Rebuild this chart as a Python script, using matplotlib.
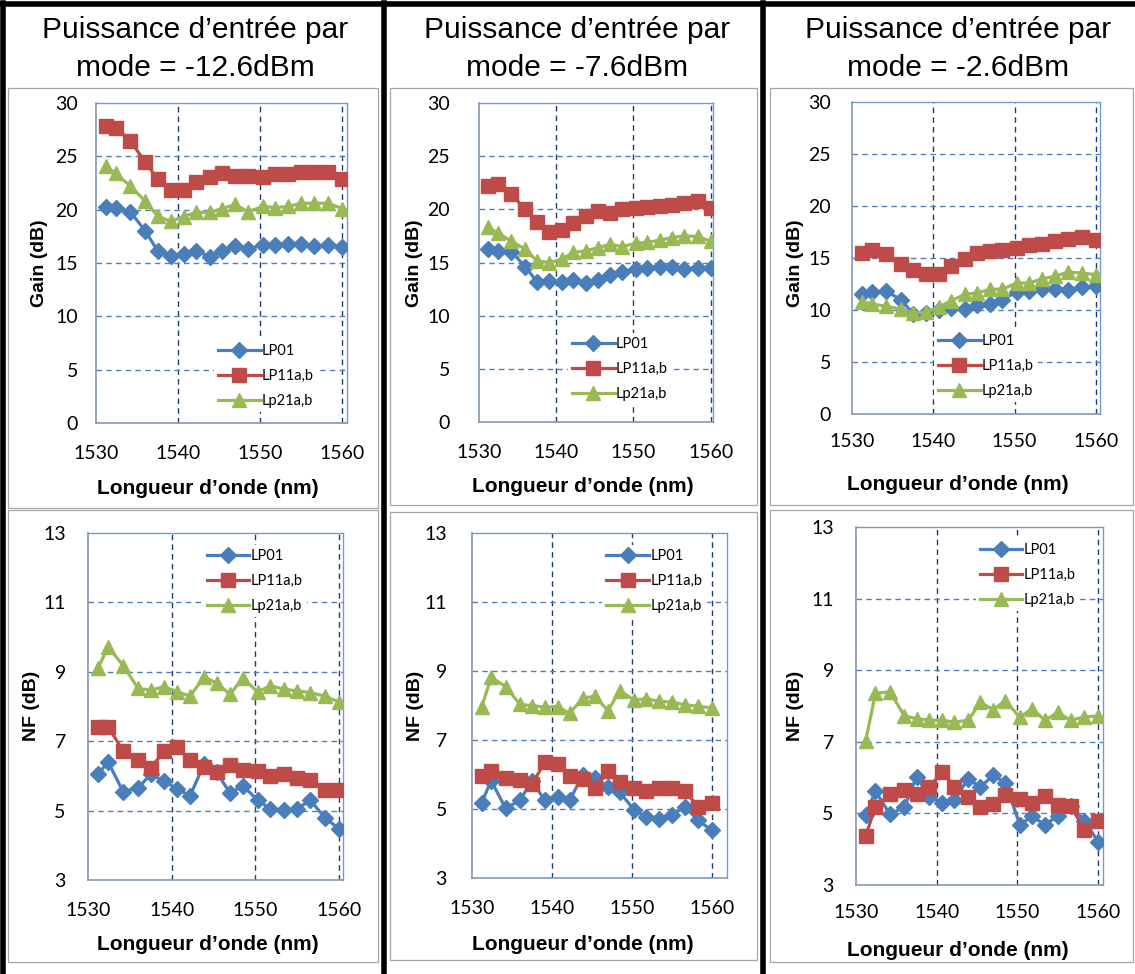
import matplotlib.pyplot as plt
from matplotlib.lines import Line2D
from matplotlib.patches import Rectangle

# wavelengths (nm) shared by every curve
wavelength = [1531.2, 1532.4, 1534.2, 1536.0, 1537.5, 1539.1, 1540.7, 1542.2, 1543.9, 1545.4,
              1547.0, 1548.5, 1550.3, 1551.8, 1553.4, 1555.0, 1556.6, 1558.3, 1560.0]

mode_names = ['LP01', 'LP11a,b', 'Lp21a,b']
input_powers = ['-12.6dBm', '-7.6dBm', '-2.6dBm']

# gain (dB)
gain_lp01_m12 = [20.25, 20.15, 19.8, 18.0, 16.15, 15.7, 15.85, 16.1, 15.6, 16.1, 16.6, 16.3, 16.7, 16.7, 16.8, 16.8, 16.55, 16.7, 16.5]
gain_lp11_m12 = [27.85, 27.7, 26.45, 24.45, 22.9, 21.8, 21.8, 22.6, 23.1, 23.4, 23.2, 23.2, 23.1, 23.3, 23.3, 23.5, 23.5, 23.5, 22.9]
gain_lp21_m12 = [24.1, 23.4, 22.2, 20.8, 19.4, 18.9, 19.35, 19.75, 19.75, 20.1, 20.5, 19.8, 20.3, 20.2, 20.3, 20.6, 20.6, 20.6, 20.1]

gain_lp01_m7 = [16.3, 16.1, 16.0, 14.6, 13.2, 13.25, 13.2, 13.4, 13.1, 13.4, 13.8, 14.1, 14.4, 14.5, 14.6, 14.6, 14.4, 14.5, 14.45]
gain_lp11_m7 = [22.2, 22.35, 21.4, 20.0, 18.8, 17.9, 18.1, 18.75, 19.4, 19.85, 19.7, 20.0, 20.15, 20.25, 20.3, 20.45, 20.6, 20.75, 20.1]
gain_lp21_m7 = [18.3, 17.8, 17.0, 16.25, 15.15, 15.0, 15.3, 15.95, 16.1, 16.4, 16.7, 16.5, 16.8, 16.9, 17.1, 17.35, 17.5, 17.45, 17.0]

gain_lp01_m2 = [11.5, 11.75, 11.8, 11.0, 9.65, 9.75, 10.0, 10.2, 10.05, 10.5, 10.6, 11.0, 11.75, 11.85, 12.0, 12.05, 11.95, 12.2, 12.3]
gain_lp11_m2 = [15.45, 15.8, 15.35, 14.4, 13.8, 13.45, 13.5, 14.2, 14.9, 15.45, 15.65, 15.75, 16.0, 16.25, 16.35, 16.6, 16.85, 17.0, 16.7]
gain_lp21_m2 = [10.8, 10.6, 10.35, 10.1, 9.7, 9.8, 10.3, 10.9, 11.5, 11.65, 12.0, 12.0, 12.6, 12.6, 13.0, 13.25, 13.65, 13.55, 13.4]

# noise figure (dB)
nf_lp01_m12 = [6.05, 6.4, 5.55, 5.65, 6.05, 5.85, 5.62, 5.42, 6.35, 6.1, 5.5, 5.72, 5.3, 5.05, 5.02, 5.05, 5.3, 4.8, 4.48]
nf_lp11_m12 = [7.4, 7.42, 6.72, 6.45, 6.22, 6.72, 6.82, 6.45, 6.25, 6.1, 6.3, 6.17, 6.13, 6.0, 6.05, 5.95, 5.87, 5.6, 5.6]
nf_lp21_m12 = [9.1, 9.72, 9.18, 8.52, 8.47, 8.57, 8.42, 8.3, 8.85, 8.67, 8.35, 8.82, 8.42, 8.6, 8.5, 8.45, 8.4, 8.3, 8.13]

nf_lp01_m7 = [5.18, 5.82, 5.02, 5.25, 5.82, 5.25, 5.35, 5.25, 6.0, 5.9, 5.65, 5.48, 4.97, 4.77, 4.72, 4.82, 5.07, 4.67, 4.38]
nf_lp11_m7 = [5.95, 6.1, 5.9, 5.85, 5.72, 6.35, 6.3, 5.97, 5.88, 5.6, 6.1, 5.77, 5.6, 5.52, 5.6, 5.6, 5.52, 5.07, 5.17]
nf_lp21_m7 = [7.95, 8.82, 8.55, 8.03, 8.0, 7.95, 7.97, 7.77, 8.22, 8.27, 7.85, 8.43, 8.15, 8.2, 8.12, 8.1, 8.02, 7.98, 7.93]

nf_lp01_m2 = [4.95, 5.62, 4.98, 5.18, 6.03, 5.45, 5.3, 5.37, 5.97, 5.73, 6.07, 5.85, 4.68, 4.92, 4.68, 4.93, 5.22, 4.8, 4.21]
nf_lp11_m2 = [4.38, 5.17, 5.54, 5.66, 5.54, 5.75, 6.15, 5.75, 5.45, 5.17, 5.26, 5.52, 5.4, 5.29, 5.5, 5.23, 5.2, 4.55, 4.8]
nf_lp21_m2 = [7.02, 8.35, 8.4, 7.72, 7.65, 7.6, 7.6, 7.55, 7.6, 8.1, 7.9, 8.15, 7.68, 7.93, 7.6, 7.82, 7.6, 7.7, 7.72]

gain_sets = [(gain_lp01_m12, gain_lp11_m12, gain_lp21_m12),
             (gain_lp01_m7, gain_lp11_m7, gain_lp21_m7),
             (gain_lp01_m2, gain_lp11_m2, gain_lp21_m2)]
nf_sets = [(nf_lp01_m12, nf_lp11_m12, nf_lp21_m12),
           (nf_lp01_m7, nf_lp11_m7, nf_lp21_m7),
           (nf_lp01_m2, nf_lp11_m2, nf_lp21_m2)]

W, H = 1135, 974
colors = ['#4A7EBB', '#BE4B48', '#98B954']
markers = [('D', 8), ('s', 10), ('^', 10)]
tick_font = 'Lato'
label_font = 'Liberation Sans'

fig = plt.figure(figsize=(W / 100, H / 100), dpi=100)
fig.patch.set_facecolor('white')


def fx(x):
    return x / W


def fy(y):
    return 1 - y / H


def px_axes(x0, y0, x1, y1):
    return fig.add_axes([fx(x0), fy(y1), (x1 - x0) / W, (y1 - y0) / H])


def style_axes(ax, xmax, ylim, yticks, ypad, xpad, leg_anchor):
    ax.set_xlim(1530, xmax)
    ax.set_ylim(*ylim)
    ax.set_xticks([1530, 1540, 1550, 1560])
    ax.set_yticks(yticks)
    for v in [1540, 1550, 1560]:
        ax.axvline(v, color='#1F3A6E', lw=1.0, ls=(0, (4, 3)), zorder=1)
    for v in yticks[1:-1]:
        ax.axhline(v, color='#4F7FC0', lw=1.0, ls=(0, (4, 3)), zorder=1)
    for s in ['top', 'right']:
        ax.spines[s].set_color('#6E9AD6')
        ax.spines[s].set_linewidth(1.0)
    for s in ['left', 'bottom']:
        ax.spines[s].set_color('#8497B0')
        ax.spines[s].set_linewidth(1.2)
    ax.tick_params(length=0)
    ax.tick_params(axis='y', pad=ypad, labelsize=14)
    ax.tick_params(axis='x', pad=xpad, labelsize=14)
    for lab in ax.get_xticklabels() + ax.get_yticklabels():
        lab.set_fontfamily(tick_font)
    leg = ax.legend(loc='center left', bbox_to_anchor=leg_anchor, frameon=True,
                    facecolor='white', edgecolor='none', framealpha=1,
                    borderpad=0.3, borderaxespad=0, handlelength=2.9,
                    handletextpad=0.1, labelspacing=0.75,
                    prop={'family': tick_font, 'size': 10.5})
    leg.set_zorder(5)


# chart area boxes and the heavy frame separating the three power levels
boxes = [(8, 88, 378, 508), (8, 510, 378, 962),
         (390, 88, 757, 505), (390, 512, 757, 960),
         (770, 88, 1133, 505), (770, 510, 1133, 962)]
for x0, y0, x1, y1 in boxes:
    fig.add_artist(Rectangle((fx(x0), fy(y1)), (x1 - x0) / W, (y1 - y0) / H,
                             transform=fig.transFigure, fill=False,
                             edgecolor='#A6A6A6', lw=0.9))
fig.add_artist(Line2D([0, 1], [fy(4), fy(4)], color='black', lw=4))
for xv in [3, 384, 763]:
    fig.add_artist(Line2D([fx(xv), fx(xv)], [0, fy(3)], color='black', lw=4))

# titles
for cx, pw in zip([195, 577, 958], input_powers):
    fig.text(fx(cx), fy(30), 'Puissance d’entrée par', ha='center', va='center',
             fontsize=21.5, family=label_font)
    fig.text(fx(cx), fy(68), 'mode = ' + pw, ha='center', va='center',
             fontsize=21.5, family=label_font)

# gain row: (x0, y0, x1, y1, xmax, ypad, xpad, legend anchor)
gain_layout = [(96, 103, 347, 423, 1560.6, 13, 16, (0.47, 0.147)),
               (479, 103, 713, 422, 1560.3, 21, 16, (0.38, 0.166)),
               (852, 102, 1100, 414, 1560.5, 15, 14, (0.33, 0.154))]
nf_layout = [(88, 533, 343, 880, 1560.5, 16, 16, (0.45, 0.862)),
             (472, 533, 727, 878, 1561.9, 18, 16, (0.51, 0.861)),
             (856, 527, 1103, 885, 1560.6, 16, 14, (0.485, 0.866))]

gain_labels_x = [40, 414, 796]
nf_labels_x = [32, 415, 795]
xlabel_pos = [(208, 488, 944), (583, 486, 944), (958, 485, 950)]

for i in range(3):
    x0, y0, x1, y1, xmax, ypad, xpad, anchor = gain_layout[i]
    ax = px_axes(x0, y0, x1, y1)
    for series, name, c, (m, ms) in zip(gain_sets[i], mode_names, colors, markers):
        ax.plot(wavelength, series, color=c, lw=2.3, marker=m, ms=ms,
                markeredgecolor=c, label=name, zorder=3)
    style_axes(ax, xmax, (0, 30), [0, 5, 10, 15, 20, 25, 30], ypad, xpad, anchor)

    x0, y0, x1, y1, xmax, ypad, xpad, anchor = nf_layout[i]
    ax = px_axes(x0, y0, x1, y1)
    for series, name, c, (m, ms) in zip(nf_sets[i], mode_names, colors, markers):
        ax.plot(wavelength, series, color=c, lw=2.3, marker=m, ms=ms,
                markeredgecolor=c, label=name, zorder=3)
    style_axes(ax, xmax, (3, 13), [3, 5, 7, 9, 11, 13], ypad, xpad, anchor)

    fig.text(fx(gain_labels_x[i]), fy((103 + 423) / 2), 'Gain (dB)', rotation=90,
             ha='center', va='center', fontsize=14, fontweight='bold', family=label_font)
    fig.text(fx(nf_labels_x[i]), fy(706), 'NF (dB)', rotation=90,
             ha='center', va='center', fontsize=14, fontweight='bold', family=label_font)
    cx, ytop, ybot = xlabel_pos[i]
    for yy in (ytop, ybot):
        fig.text(fx(cx), fy(yy), 'Longueur d’onde (nm)', ha='center', va='center',
                 fontsize=15, fontweight='bold', family=label_font)

fig.savefig('out.png', dpi=100, facecolor='white')
